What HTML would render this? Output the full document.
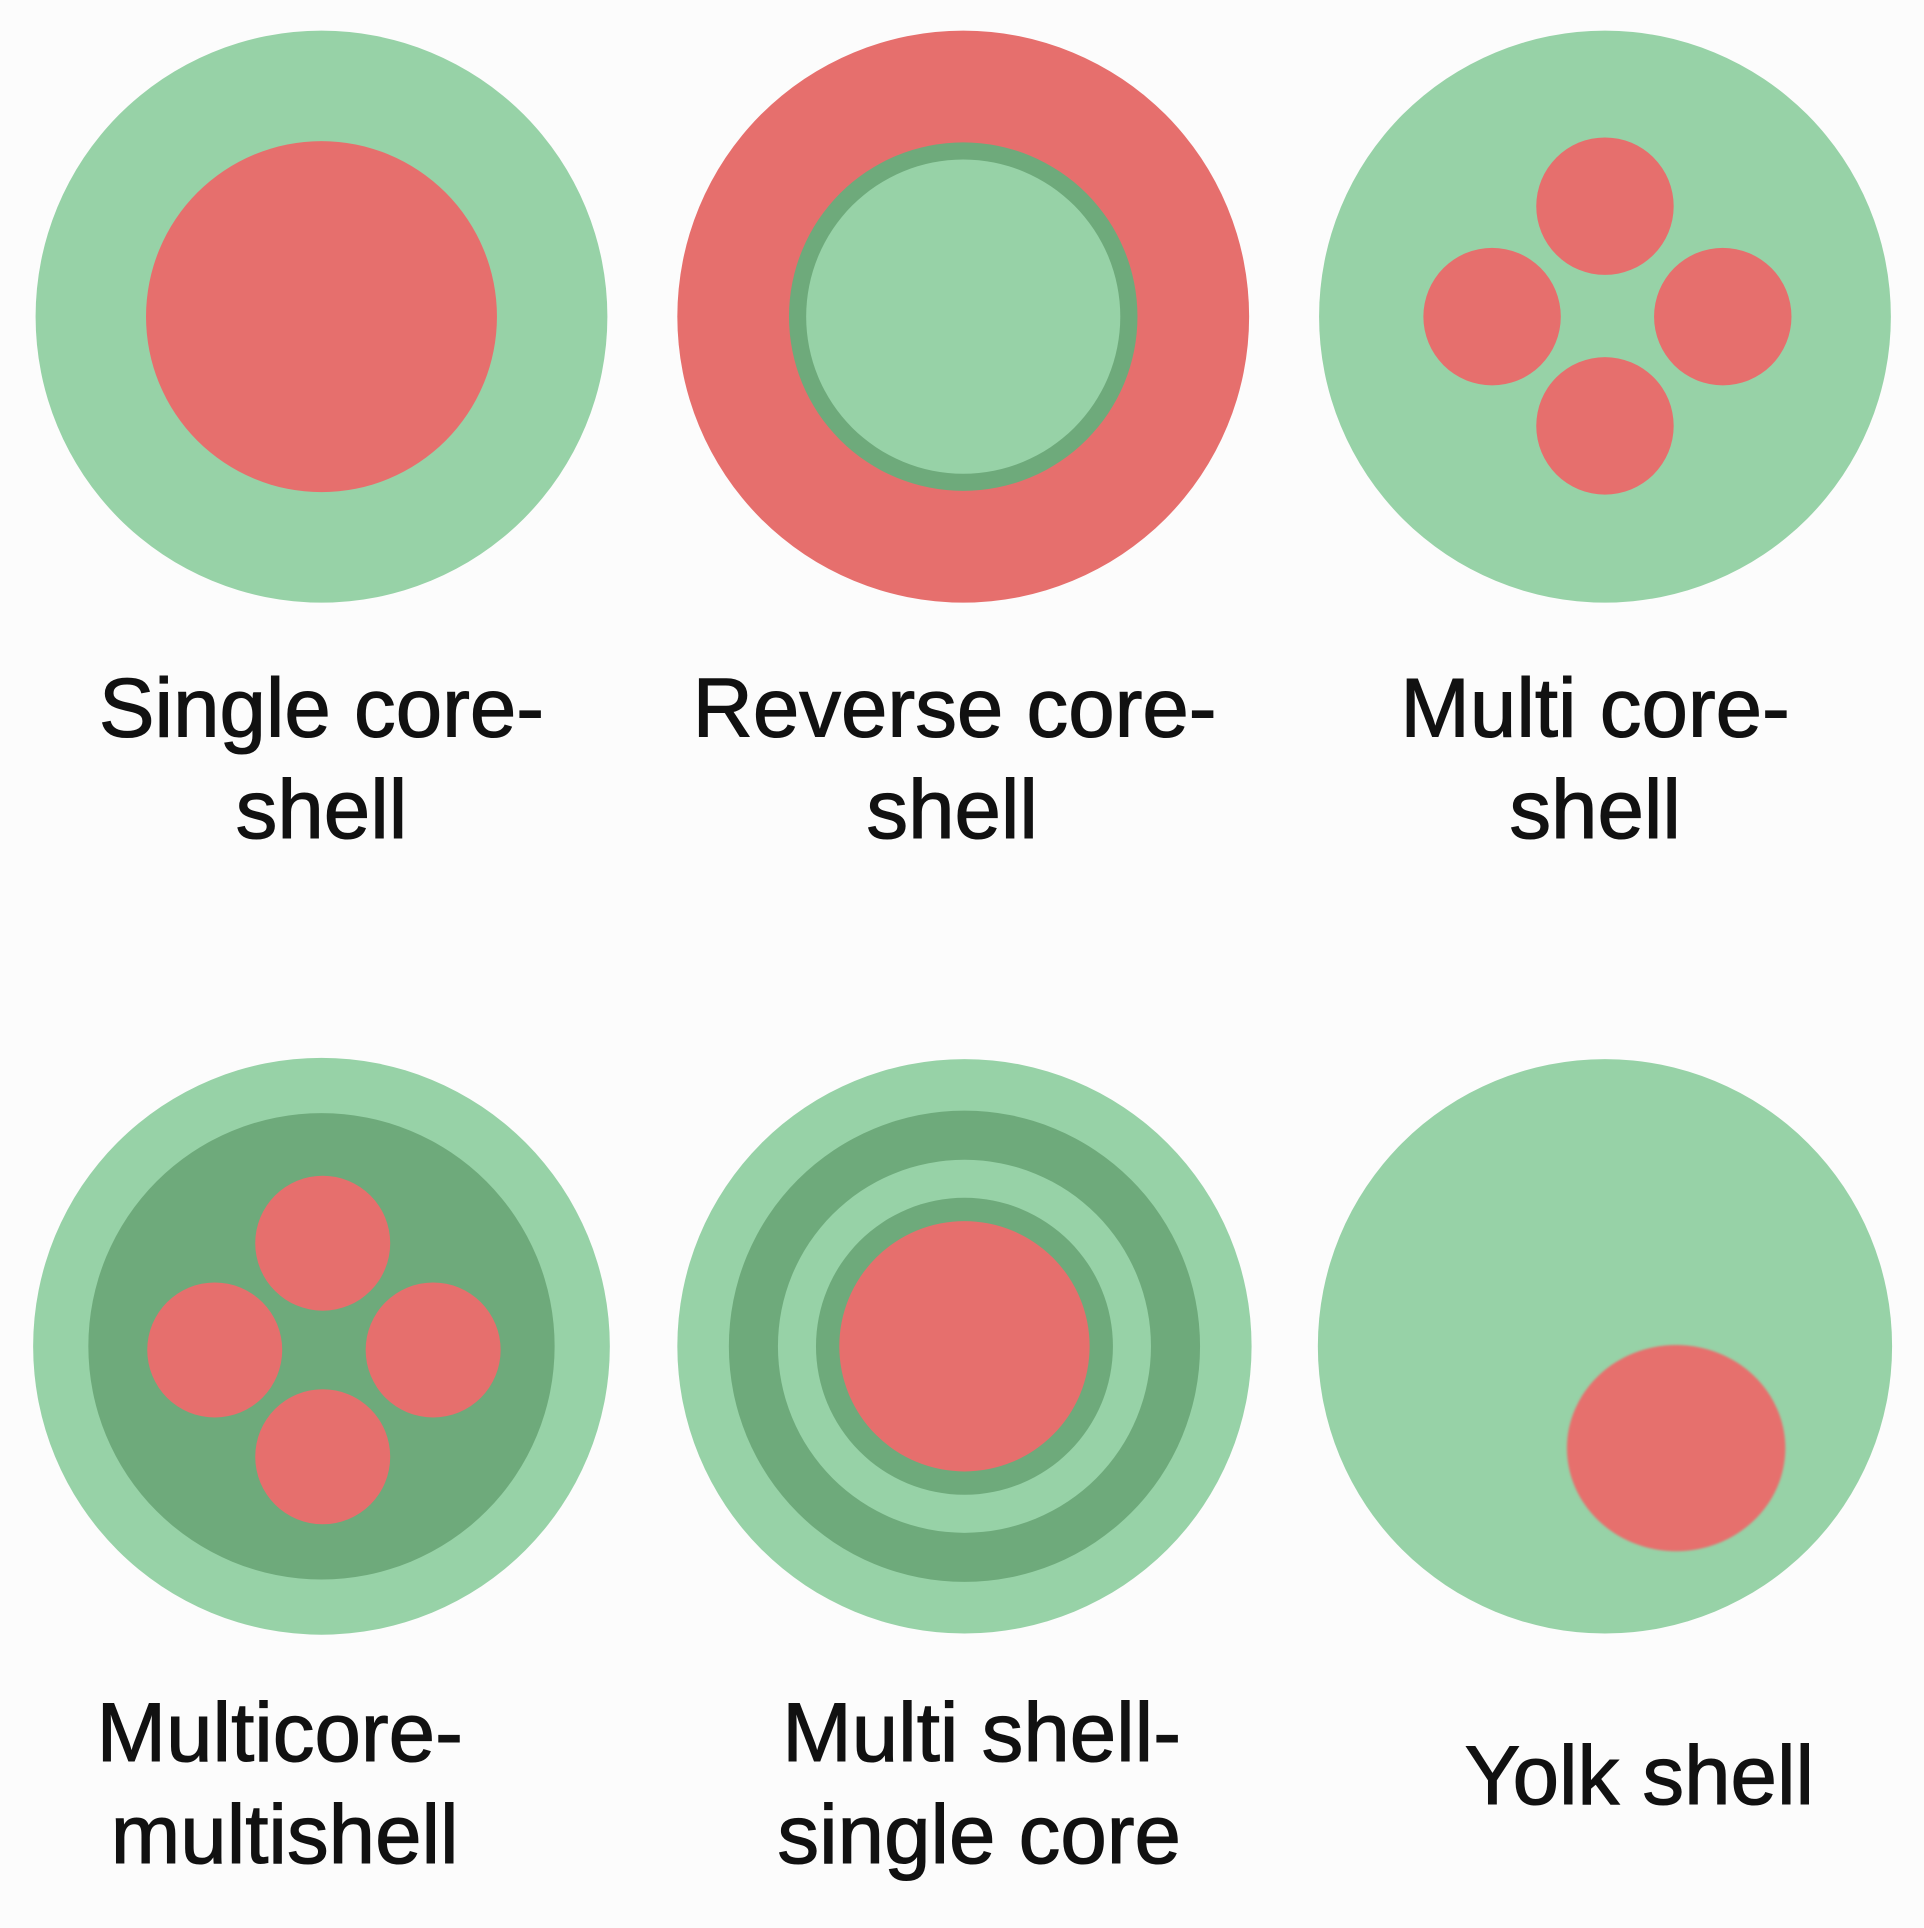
<!DOCTYPE html>
<html><head><meta charset="utf-8"><style>
html,body{margin:0;padding:0;background:#fcfcfc;}
svg{display:block;}
text{font-family:"Liberation Sans",sans-serif;font-size:68px;fill:#111;stroke:#111;stroke-width:0.9;text-anchor:middle;}
</style></head><body>
<svg width="1924" height="1928" viewBox="0 0 1568 1571" preserveAspectRatio="none">
<rect width="1568" height="1571" fill="#fcfcfc"/>
<defs><filter id="b"><feGaussianBlur stdDeviation="0.8"/></filter></defs>
<g fill="#97d2a7">
<circle cx="262" cy="258" r="233"/>
<circle cx="1308" cy="258" r="233"/>
<circle cx="262" cy="1097" r="235"/>
<circle cx="786" cy="1097" r="234"/>
<circle cx="1308" cy="1097" r="234"/>
</g>
<circle cx="785" cy="258" r="233" fill="#e66f6d"/>
<circle cx="785" cy="258" r="142" fill="#6eaa7b"/>
<circle cx="785" cy="258" r="128" fill="#97d2a7"/>
<circle cx="262" cy="258" r="143" fill="#e66f6d"/>
<g fill="#e66f6d">
<circle cx="1308" cy="168" r="56"/><circle cx="1216" cy="258" r="56"/>
<circle cx="1404" cy="258" r="56"/><circle cx="1308" cy="347" r="56"/>
</g>
<circle cx="262" cy="1097" r="190" fill="#6eaa7b"/>
<g fill="#e66f6d">
<circle cx="263" cy="1013" r="55"/><circle cx="175" cy="1100" r="55"/>
<circle cx="353" cy="1100" r="55"/><circle cx="263" cy="1187" r="55"/>
</g>
<circle cx="786" cy="1097" r="192" fill="#6eaa7b"/>
<circle cx="786" cy="1097" r="152" fill="#97d2a7"/>
<circle cx="786" cy="1097" r="121" fill="#6eaa7b"/>
<circle cx="786" cy="1097" r="102" fill="#e66f6d"/>
<ellipse cx="1366" cy="1180" rx="89" ry="84" fill="#e66f6d" filter="url(#b)"/>
<text x="262" y="600">Single core-</text>
<text x="262" y="683">shell</text>
<text x="778" y="600">Reverse core-</text>
<text x="776" y="683">shell</text>
<text x="1300" y="600">Multi core-</text>
<text x="1300" y="683">shell</text>
<text x="228" y="1435">Multicore-</text>
<text x="232" y="1518">multishell</text>
<text x="800" y="1435">Multi shell-</text>
<text x="798" y="1518">single core</text>
<text x="1336" y="1470">Yolk shell</text>
</svg>
</body></html>
